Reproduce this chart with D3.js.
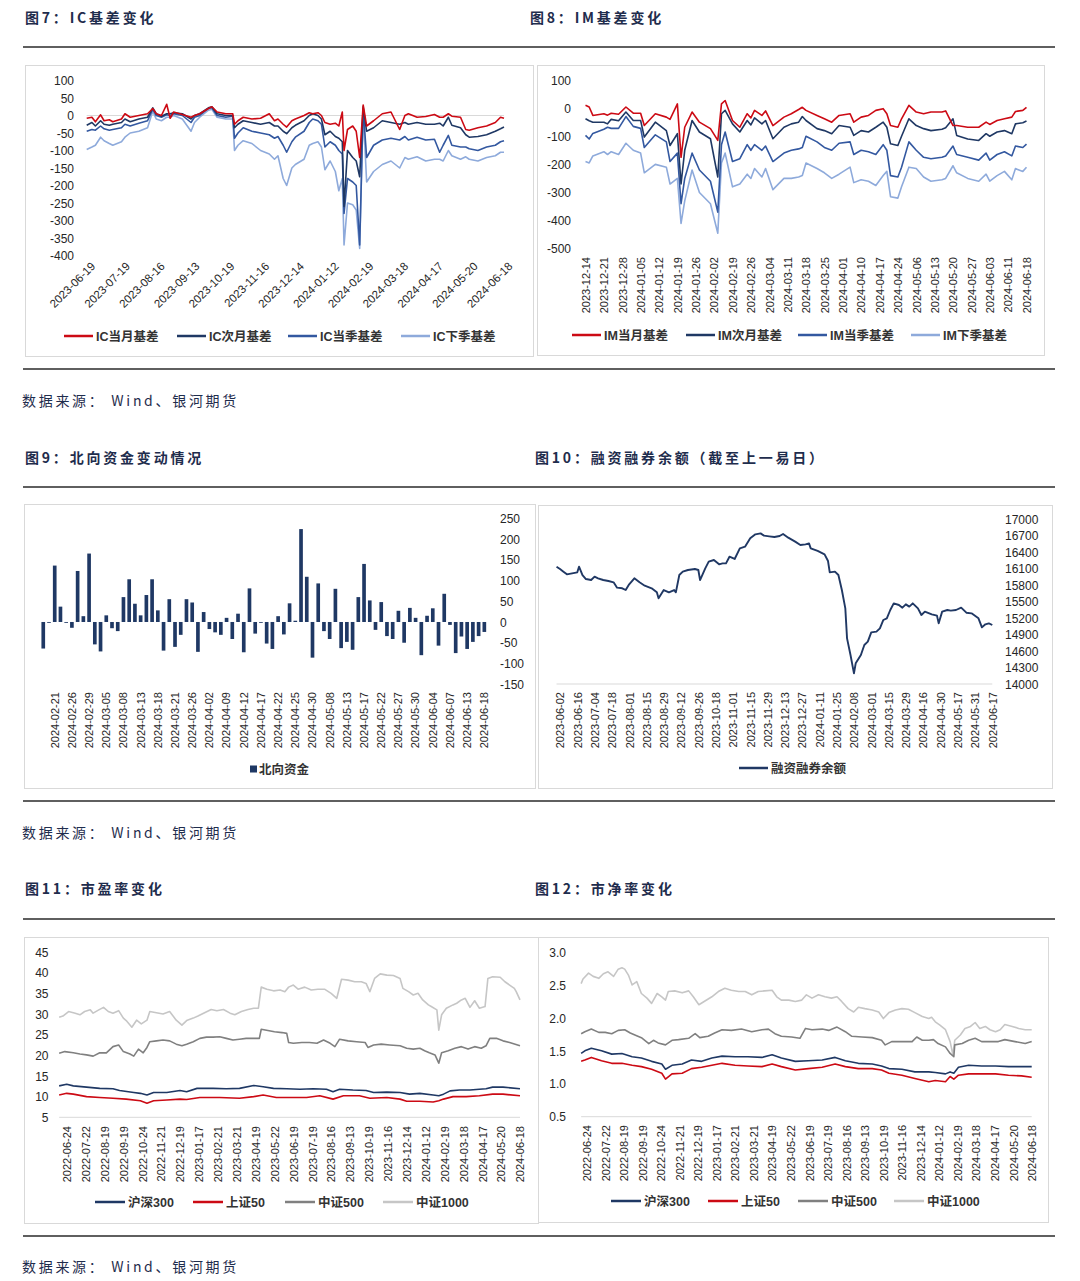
<!DOCTYPE html>
<html>
<head>
<meta charset="utf-8">
<script src="https://d3js.org/d3.v7.min.js"></script>
<style>
  body { margin: 0; background: #ffffff; }
</style>
</head>
<body>
<script>
// ---------- 图7：IC基差 (x = trading day since 2023-06-19) ----------
const icLabels = ["2023-06-19","2023-07-19","2023-08-16","2023-09-13","2023-10-19","2023-11-16","2023-12-14","2024-01-12","2024-02-19","2024-03-18","2024-04-17","2024-05-20","2024-06-18"];
const icDays = [0,3,5,8,10,13,15,20,22,25,30,35,38,40,43,46,48,50,55,60,62,65,70,72,75,80,84,85,87,90,95,100,105,108,110,113,115,118,120,125,128,130,133,135,137,140,143,145,147,148,150,153,155,157,159,161,165,170,175,180,183,185,190,195,200,203,205,208,210,215,218,220,225,230,235,238,240];
const icCur = [-8,-5,-18,2,-15,-12,-18,-10,5,-5, 0,5,20,5,0,32,-8,10,3,-5, 0,5,20,25,10,5,5,-25,-15,-5, -10,-8,5,-15,-10,-25,-33,-15,-10,0, 8,5,8,0,-20,-25,-22,-30,10,-100, -40,-30,-45,-120,30,-30,-15,5,10,-40, 0,5,-5,-3,3,-5,-5,5,-2,-5, -40,-42,-35,-30,-20,-5,-8];
const icNext = [-28,-20,-30,-15,-25,-28,-25,-20,-10,-18, -10,-5,22,5,-2,5,5,8,5,-10, 0,5,22,25,5,0,0,-35,-25,-15, -20,-25,-20,-30,-30,-45,-52,-35,-28,-15, 0,5,0,-10,-55,-45,-60,-65,-75,-260, -100,-120,-130,-175,25,-45,-35,-15,-20,-25, -20,-25,-20,-25,-25,-22,-30,-5,-28,-35, -55,-62,-60,-55,-45,-38,-33];
const icQtr = [-45,-40,-42,-30,-38,-42,-40,-35,-25,-30, -22,-15,18,0,-5,2,0,5,0,-20, -5,0,20,22,0,-5,-2,-65,-50,-35, -45,-50,-55,-65,-60,-85,-105,-75,-62,-45, -20,-10,-15,-25,-90,-75,-85,-100,-110,-280, -180,-190,-200,-370,20,-120,-85,-70,-65,-70, -60,-70,-62,-70,-68,-105,-85,-57,-85,-90, -90,-95,-100,-90,-85,-75,-72];
const icNextQtr = [-97,-90,-85,-62,-72,-80,-85,-75,-62,-50, -45,-35,12,-10,-15,-5,-5,0,-10,-45, -20,-5,15,18,-5,-10,-10,-100,-85,-72, -80,-100,-110,-125,-115,-180,-200,-150,-140,-125, -85,-80,-75,-90,-155,-130,-160,-215,-180,-370, -250,-255,-270,-380,15,-190,-160,-140,-130,-150, -120,-125,-118,-130,-125,-125,-130,-100,-115,-125, -118,-125,-130,-120,-115,-105,-105];
const icTicks = [100,50,0,-50,-100,-150,-200,-250,-300,-350,-400];

// ---------- 图8：IM基差 (x = trading day since 2023-12-14) ----------
const imLabels = ["2023-12-14","2023-12-21","2023-12-28","2024-01-05","2024-01-12","2024-01-19","2024-01-26","2024-02-02","2024-02-19","2024-02-26","2024-03-04","2024-03-11","2024-03-18","2024-03-25","2024-04-01","2024-04-10","2024-04-17","2024-04-24","2024-05-06","2024-05-13","2024-05-20","2024-05-27","2024-06-03","2024-06-11","2024-06-18"];
const imDays = [0,1,2,5,6,7,9,11,13,15,16,19,22,23,25,26,27,29,31,34,36,37,38,40,42,44,45,46,48,49,51,54,56,58,59,60,63,65,67,69,72,73,75,77,79,81,82,83,85,86,88,90,92,94,97,98,100,101,104,107,109,110,112,114,116,117,119,120];
const imCur = [10,4,-26,-20,-25,-18,-22,4,-18,-18, -62,-20,-32,-40,15,-175,-68,-14,-50,-73, -115,15,27,-44,-68,-20,-35,-8,-26,-10, -62,-32,-20,-5,3,-8,-26,-38,-50,-26, -20,-50,-32,-26,-8,-2,-20,-62,-68,-38, 10,-14,-20,-14,-14,-10,-62,-62,-68,-68, -50,-58,-44,-38,-32,-12,-8,3];
const imNext = [-38,-45,-50,-50,-56,-40,-45,-14,-44,-44, -103,-50,-80,-133,-91,-270,-150,-44,-85,-109, -245,-20,-8,-56,-85,-44,-60,-35,-56,-44, -109,-68,-56,-50,-30,-44,-73,-80,-91,-62, -68,-97,-80,-85,-68,-50,-68,-127,-133,-100, -38,-62,-73,-80,-75,-70,-38,-97,-110,-115, -91,-100,-85,-80,-91,-56,-52,-46];
const imQtr = [-97,-110,-90,-75,-68,-72,-72,-30,-65,-72, -140,-95,-120,-190,-160,-340,-250,-160,-220,-260, -370,-130,-85,-190,-180,-130,-150,-130,-150,-135, -190,-160,-150,-145,-140,-100,-120,-140,-150,-125, -120,-165,-150,-155,-165,-130,-150,-240,-245,-210, -120,-150,-175,-180,-175,-170,-135,-165,-175,-185, -160,-185,-165,-155,-170,-135,-140,-128];
const imNextQtr = [-190,-195,-170,-155,-165,-155,-165,-125,-150,-160, -230,-200,-210,-270,-250,-410,-330,-220,-300,-340, -445,-195,-160,-280,-270,-235,-250,-215,-245,-215, -290,-250,-250,-245,-240,-195,-215,-230,-250,-235, -210,-265,-255,-260,-275,-240,-225,-315,-320,-280, -210,-215,-245,-260,-255,-250,-205,-230,-250,-260, -235,-260,-240,-225,-255,-215,-225,-210];
const imTicks = [100,0,-100,-200,-300,-400,-500];

// ---------- 图9：北向资金 (亿元, 2024-02-19 起每个交易日) ----------
const nbLabels = ["2024-02-21","2024-02-26","2024-02-29","2024-03-05","2024-03-08","2024-03-13","2024-03-18","2024-03-21","2024-03-26","2024-04-02","2024-04-09","2024-04-12","2024-04-17","2024-04-22","2024-04-25","2024-04-30","2024-05-08","2024-05-13","2024-05-17","2024-05-22","2024-05-27","2024-05-30","2024-06-04","2024-06-07","2024-06-13","2024-06-18"];
const nbValues = [-64,-2,136,37,-2,-14,123,14,165,-54, -71,16,-15,-22,60,103,44,16,65,103, 28,-69,55,-60,-31,55,47,-72,24,-17, -25,-31,10,-41,20,-73,81,-28,-2,-52, -65,14,-30,45,3,224,109,-86,93,-22, -41,80,-63,-48,-67,60,140,52,-19,48, -34,-41,27,-50,34,10,-80,15,33,-57, 68,-7,-75,-35,-65,-48,-34,-24];
const nbTicks = [250,200,150,100,50,0,-50,-100,-150];

// ---------- 图10：融资融券余额 (亿元, x = trading day since 2023-06-02) ----------
const mbLabels = ["2023-06-02","2023-06-16","2023-07-04","2023-07-18","2023-08-01","2023-08-15","2023-08-29","2023-09-12","2023-09-26","2023-10-18","2023-11-01","2023-11-15","2023-11-29","2023-12-13","2023-12-27","2024-01-11","2024-01-25","2024-02-08","2024-03-01","2024-03-15","2024-03-29","2024-04-16","2024-04-30","2024-05-17","2024-05-31","2024-06-17"];
const marginBalance = [[-2,16137],[0,16095],[2,16046],[4,15998],[7,16016],[10,16034],[11,16137],[13,15985],[15,15912],[18,15894],[20,15955],[22,15925],[25,15894],[28,15876],[31,15852],[33,15755],[36,15743],[38,15712],[40,15815],[43,15925],[46,15852],[49,15791],[53,15743],[56,15670],[57,15560],[60,15712],[63,15670],[66,15712],[67,15670],[69,15985],[71,16046],[74,16076],[78,16095],[80,16076],[81,15894],[84,16107],[86,16228],[89,16259],[92,16180],[94,16198],[96,16198],[98,16319],[101,16277],[104,16471],[107,16501],[110,16653],[113,16726],[116,16744],[118,16702],[121,16690],[124,16678],[127,16696],[129,16732],[132,16665],[136,16593],[139,16532],[142,16544],[144,16562],[145,16471],[149,16423],[153,16362],[155,16240],[156,16034],[159,16046],[161,15985],[163,15712],[165,15378],[166,14832],[168,14528],[170,14194],[171,14376],[174,14528],[176,14710],[178,14771],[180,14941],[183,14953],[185,15014],[187,15166],[189,15196],[191,15348],[193,15469],[196,15439],[198,15390],[200,15451],[202,15409],[204,15469],[207,15378],[209,15257],[211,15318],[215,15269],[218,15245],[219,15105],[221,15318],[224,15348],[226,15336],[229,15348],[232,15390],[235,15299],[238,15287],[242,15196],[244,15032],[246,15087],[248,15105],[250,15075]];
const mbTicks = [17000,16700,16400,16100,15800,15500,15200,14900,14600,14300,14000];

// ---------- 图11 / 图12 (x = trading day since 2022-06-24) ----------
const valLabels = ["2022-06-24","2022-07-22","2022-08-19","2022-09-19","2022-10-24","2022-11-21","2022-12-19","2023-01-17","2023-02-21","2023-03-21","2023-04-19","2023-05-22","2023-06-19","2023-07-19","2023-08-16","2023-09-13","2023-10-19","2023-11-16","2023-12-14","2024-01-12","2024-02-19","2024-03-18","2024-04-17","2024-05-20","2024-06-18"];
const pe300 = [[-8,12.6],[0,13.0],[7,12.6],[21,12.3],[35,12.0],[49,11.9],[56,11.5],[71,11.0],[78,10.8],[85,10.4],[92,11.0],[106,11.0],[120,11.5],[127,11.2],[138,12.0],[155,12.0],[169,11.9],[183,12.0],[198,12.7],[208,12.4],[219,12.0],[233,11.9],[247,11.8],[261,11.9],[275,11.8],[282,11.2],[289,11.8],[303,11.6],[317,11.5],[325,11.0],[339,11.1],[353,11.0],[363,10.6],[374,10.8],[388,10.4],[394,10.2],[399,10.6],[406,11.4],[416,11.6],[427,11.6],[437,11.8],[444,11.9],[451,12.3],[462,12.3],[480,11.9]];
const pe50 = [[-8,10.4],[0,10.8],[7,10.6],[21,10.0],[35,9.8],[49,9.6],[63,9.4],[78,9.0],[85,8.4],[92,9.0],[106,9.2],[120,9.4],[127,9.3],[141,9.8],[162,9.8],[183,9.6],[198,10.0],[208,10.4],[222,9.8],[240,9.8],[254,9.8],[268,10.2],[282,9.4],[293,10.2],[310,10.2],[321,9.6],[339,9.8],[353,9.4],[360,8.9],[374,8.9],[388,8.7],[394,9.0],[399,9.4],[409,10.0],[423,10.0],[437,10.2],[451,10.6],[462,10.6],[480,10.2]];
const pe500 = [[-8,20.5],[-2,20.9],[7,20.6],[14,20.3],[21,20.1],[28,19.8],[35,20.6],[42,20.6],[49,22.1],[55,22.5],[60,20.9],[67,20.3],[71,19.8],[76,21.5],[81,20.6],[85,21.9],[88,23.3],[95,23.5],[102,23.7],[109,23.5],[116,22.7],[122,22.3],[127,22.7],[134,23.3],[141,24.1],[148,24.4],[155,24.4],[162,24.5],[169,24.1],[176,23.7],[183,23.9],[190,24.1],[198,24.1],[204,24.1],[206,26.3],[213,26.0],[220,25.7],[228,25.5],[233,25.3],[235,23.1],[240,22.9],[249,23.1],[257,23.1],[265,22.9],[272,23.7],[279,22.9],[284,22.1],[289,23.9],[298,23.5],[307,23.3],[316,23.1],[319,21.9],[325,22.5],[333,22.7],[342,22.5],[353,22.3],[360,21.7],[367,21.5],[374,21.7],[379,21.1],[384,20.6],[390,20.1],[394,18.1],[397,20.6],[404,21.1],[411,21.7],[418,22.1],[425,21.5],[432,22.1],[439,21.7],[444,22.3],[448,24.1],[455,24.1],[462,23.5],[469,23.1],[480,22.3]];
const pe1000 = [[-8,29.2],[-4,29.5],[2,30.6],[9,30.2],[14,29.8],[19,30.6],[25,31.0],[28,30.2],[34,31.0],[39,31.6],[44,30.6],[49,30.2],[55,30.8],[60,29.0],[63,28.4],[69,26.8],[74,28.5],[79,27.6],[85,28.5],[88,30.6],[95,30.3],[102,30.0],[109,30.6],[116,28.5],[122,27.3],[127,28.4],[134,29.0],[139,29.5],[146,30.3],[153,31.1],[159,30.8],[166,31.1],[173,30.2],[178,29.8],[185,30.6],[192,31.1],[198,31.4],[203,31.4],[206,36.5],[212,36.0],[219,35.6],[226,35.8],[231,35.4],[235,36.5],[240,37.0],[245,36.0],[252,36.5],[259,35.8],[266,36.0],[273,36.0],[280,35.0],[286,33.8],[291,38.4],[298,38.2],[305,37.8],[312,37.8],[317,37.4],[321,35.4],[326,38.6],[332,39.7],[339,39.4],[346,39.3],[353,38.6],[356,36.2],[362,35.4],[367,34.6],[372,35.0],[377,33.4],[383,32.2],[386,31.8],[392,31.0],[394,26.1],[397,29.8],[402,31.4],[409,32.2],[413,32.6],[418,33.4],[422,33.8],[427,31.6],[432,33.2],[437,31.4],[443,31.8],[446,38.6],[451,39.0],[459,38.9],[464,37.8],[469,37.0],[474,36.2],[476,35.4],[480,33.4]];
const peTicks = [45,40,35,30,25,20,15,10,5];

const pbDays = [-6,-2,5,16,27,38,49,59,70,81,85,92,103,113,124,135,146,160,174,189,200,210,225,239,254,268,279,293,308,318,326,340,354,369,376,387,392,396,401,412,426,441,455,469,480];
const pb300 = [1.46,1.50,1.54,1.50,1.45,1.46,1.41,1.39,1.34,1.30, 1.22,1.28,1.30,1.36,1.34,1.39,1.42,1.41,1.41,1.40, 1.44,1.39,1.34,1.35,1.36,1.40,1.35,1.31,1.30,1.27, 1.23,1.22,1.18,1.18,1.17,1.15,1.18,1.16,1.25,1.28, 1.27,1.27,1.26,1.26,1.26];
const pb50 = [1.34,1.36,1.40,1.35,1.31,1.31,1.28,1.26,1.22,1.16, 1.07,1.15,1.16,1.23,1.25,1.28,1.31,1.28,1.27,1.26, 1.30,1.26,1.21,1.23,1.25,1.30,1.26,1.23,1.23,1.21, 1.16,1.13,1.08,1.03,1.05,1.03,1.11,1.07,1.13,1.15, 1.15,1.15,1.13,1.12,1.10];
const pb500 = [[-6,1.76],[-2,1.79],[5,1.83],[13,1.78],[20,1.78],[27,1.76],[34,1.81],[41,1.82],[47,1.77],[52,1.74],[59,1.70],[67,1.61],[72,1.66],[77,1.62],[85,1.59],[92,1.66],[99,1.67],[110,1.69],[117,1.76],[122,1.70],[131,1.72],[138,1.77],[146,1.82],[156,1.81],[167,1.83],[178,1.79],[189,1.82],[196,1.83],[203,1.76],[210,1.72],[221,1.71],[230,1.69],[236,1.84],[243,1.82],[254,1.83],[261,1.81],[270,1.86],[279,1.79],[286,1.72],[297,1.71],[308,1.70],[318,1.66],[322,1.59],[329,1.64],[340,1.64],[351,1.64],[356,1.71],[362,1.66],[369,1.66],[374,1.67],[379,1.61],[387,1.56],[392,1.46],[396,1.41],[397,1.59],[405,1.61],[412,1.66],[419,1.69],[426,1.64],[437,1.64],[444,1.64],[451,1.67],[462,1.64],[473,1.61],[480,1.64]];
const pb1000 = [[-6,2.52],[-4,2.59],[2,2.68],[7,2.63],[13,2.60],[18,2.67],[23,2.70],[29,2.63],[34,2.74],[38,2.76],[41,2.74],[45,2.65],[49,2.50],[54,2.55],[59,2.37],[65,2.30],[70,2.22],[76,2.37],[81,2.32],[85,2.27],[88,2.40],[95,2.41],[103,2.38],[110,2.41],[115,2.32],[121,2.20],[128,2.26],[135,2.32],[142,2.40],[149,2.45],[156,2.42],[164,2.40],[171,2.40],[178,2.35],[185,2.40],[192,2.41],[200,2.42],[205,2.32],[210,2.27],[218,2.27],[225,2.25],[232,2.27],[237,2.35],[243,2.30],[250,2.35],[257,2.32],[264,2.30],[270,2.32],[275,2.25],[282,2.14],[288,2.09],[293,2.16],[300,2.14],[308,2.12],[315,2.09],[320,1.99],[326,2.08],[333,2.12],[340,2.14],[347,2.13],[354,2.08],[362,2.02],[369,1.99],[372,2.01],[376,1.94],[381,1.89],[387,1.82],[392,1.64],[395,1.44],[397,1.66],[403,1.74],[408,1.84],[414,1.87],[419,1.93],[424,1.84],[430,1.87],[435,1.82],[441,1.79],[446,1.82],[451,1.90],[459,1.87],[466,1.84],[473,1.82],[480,1.82]];
const pbTicks = [3.0,2.5,2.0,1.5,1.0,0.5];

// ---------- 样式 ----------
const NUM = '"Liberation Sans", Arial, sans-serif';
const CJK = '"Noto Sans CJK SC", sans-serif';
const MIX = '"Liberation Sans", "Noto Sans CJK SC", sans-serif';
const INK = "#1f2d4d";
const RED = "#cc0a14", NAVY = "#1f3864", MID = "#3358a0", LIGHT = "#8eaadb";
const G500 = "#808080", G1000 = "#c6c6c6";

const svg = d3.select("body").append("svg").attr("width", 1080).attr("height", 1281);

function rule(y) {
  svg.append("line").attr("x1", 23).attr("x2", 1055).attr("y1", y).attr("y2", y)
    .attr("stroke", "#2a2a2a").attr("stroke-width", 1.3);
}
function title(x, y, t) {
  svg.append("text").attr("x", x).attr("y", y).attr("dy", "0.36em")
    .attr("font-family", CJK).attr("font-weight", 700).attr("font-size", 14)
    .attr("letter-spacing", 2.8).attr("fill", INK).text(t);
}
function source(y) {
  svg.append("text").attr("x", 22).attr("y", y).attr("dy", "0.36em")
    .attr("font-family", CJK).attr("font-size", 14).attr("letter-spacing", 2.7)
    .attr("fill", INK).text("数据来源： Wind、银河期货");
}
function frame(x0, y0, x1, y1) {
  svg.append("rect").attr("x", x0 + 0.5).attr("y", y0 + 0.5).attr("width", x1 - x0).attr("height", y1 - y0)
    .attr("fill", "none").attr("stroke", "#d9d9d9").attr("stroke-width", 1);
}
function yAxis(scale, ticks, x, side, fmt) {
  const axis = (side === "left" ? d3.axisLeft(scale) : d3.axisRight(scale))
    .tickValues(ticks).tickSize(0).tickPadding(0).tickFormat(fmt || (d => d));
  const g = svg.append("g").attr("transform", `translate(${x},0)`).call(axis);
  g.select(".domain").remove();
  g.attr("font-family", NUM).attr("font-size", 12).attr("color", "#262626");
  g.selectAll("text").attr("dy", "0.35em");
}
function xLabels(scale, positions, labels, dx, y, angle, size) {
  const axis = d3.axisBottom(scale).tickValues(positions).tickSize(0).tickPadding(0)
    .tickFormat((d, i) => labels[i]);
  const g = svg.append("g").attr("transform", `translate(${dx},${y})`).call(axis);
  g.select(".domain").remove();
  g.attr("font-family", NUM).attr("font-size", size).attr("color", "#262626");
  g.selectAll("text").attr("x", 0).attr("y", 0).attr("dy", "0.35em")
    .attr("text-anchor", "end").attr("transform", `rotate(${angle})`);
}
function series(x, y, pts, color, w) {
  svg.append("path").datum(pts).attr("fill", "none").attr("stroke", color)
    .attr("stroke-width", w).attr("stroke-linejoin", "round")
    .attr("d", d3.line().x(d => x(d[0])).y(d => y(d[1])));
}
function legendLine(x, y, color, label, len) {
  svg.append("line").attr("x1", x).attr("x2", x + len).attr("y1", y).attr("y2", y)
    .attr("stroke", color).attr("stroke-width", 2.5);
  svg.append("text").attr("x", x + len + 3).attr("y", y).attr("dy", "0.36em")
    .attr("font-family", MIX).attr("font-weight", 700).attr("font-size", 12.5)
    .attr("fill", "#333").text(label);
}
function hline(x0, x1, y) {
  svg.append("line").attr("x1", x0).attr("x2", x1).attr("y1", y).attr("y2", y)
    .attr("stroke", "#d9d9d9").attr("stroke-width", 1);
}

// ---------- 页面框架 ----------
title(25, 18, "图7：IC基差变化");
title(530, 18, "图8：IM基差变化");
rule(47);
rule(369);
source(401);
title(25, 458, "图9：北向资金变动情况");
title(535, 458, "图10：融资融券余额（截至上一易日）");
rule(487);
rule(801);
source(833);
title(25, 889, "图11：市盈率变化");
title(535, 889, "图12：市净率变化");
rule(919);
rule(1236);
source(1267);

// ---------- 图7 ----------
{
  frame(25, 65, 533, 356);
  const x = d3.scaleLinear().domain([0, 240]).range([86.7, 504]);
  const y = d3.scaleLinear().domain([-400, 100]).range([255.5, 80.5]);
  hline(x(0), x(240), y(0));
  yAxis(y, icTicks, 74, "left");
  xLabels(x, d3.range(0, 241, 20), icLabels, 6, 264, -45, 11.5);
  series(x, y, d3.zip(icDays, icNextQtr), LIGHT, 1.6);
  series(x, y, d3.zip(icDays, icQtr), MID, 1.6);
  series(x, y, d3.zip(icDays, icNext), NAVY, 1.6);
  series(x, y, d3.zip(icDays, icCur), RED, 1.6);
  legendLine(64, 336, RED, "IC当月基差", 29);
  legendLine(177, 336, NAVY, "IC次月基差", 29);
  legendLine(288, 336, MID, "IC当季基差", 29);
  legendLine(401, 336, LIGHT, "IC下季基差", 29);
}

// ---------- 图8 ----------
{
  frame(537, 65, 1044, 355);
  const x = d3.scaleLinear().domain([0, 120]).range([585.5, 1026.5]);
  const y = d3.scaleLinear().domain([-500, 100]).range([248.7, 80]);
  yAxis(y, imTicks, 571, "left");
  xLabels(x, d3.range(0, 121, 5), imLabels, 0, 257, -90, 11);
  series(x, y, d3.zip(imDays, imNextQtr), LIGHT, 1.6);
  series(x, y, d3.zip(imDays, imQtr), MID, 1.6);
  series(x, y, d3.zip(imDays, imNext), NAVY, 1.6);
  series(x, y, d3.zip(imDays, imCur), RED, 1.6);
  legendLine(572, 335, RED, "IM当月基差", 29);
  legendLine(686, 335, NAVY, "IM次月基差", 29);
  legendLine(798, 335, MID, "IM当季基差", 29);
  legendLine(911, 335, LIGHT, "IM下季基差", 29);
}

// ---------- 图9 ----------
{
  frame(24, 504, 535, 788);
  const x = d3.scaleBand().domain(d3.range(nbValues.length)).range([40.4, 487.2])
    .paddingInner(0.36).paddingOuter(0.18);
  const y = d3.scaleLinear().domain([-150, 250]).range([684.2, 518.3]);
  svg.append("g").selectAll("rect").data(nbValues).join("rect")
    .attr("x", (d, i) => x(i)).attr("width", x.bandwidth())
    .attr("y", d => y(Math.max(0, d))).attr("height", d => Math.abs(y(d) - y(0)))
    .attr("fill", NAVY);
  yAxis(y, nbTicks, 500, "right");
  xLabels(x, d3.range(2, nbValues.length, 3), nbLabels, 0, 692, -90, 11);
  svg.append("rect").attr("x", 250).attr("y", 765.5).attr("width", 7).attr("height", 7).attr("fill", NAVY);
  svg.append("text").attr("x", 259).attr("y", 769).attr("dy", "0.36em")
    .attr("font-family", MIX).attr("font-weight", 700).attr("font-size", 12.5)
    .attr("fill", "#333").text("北向资金");
}

// ---------- 图10 ----------
{
  frame(538, 505, 1052, 788);
  const x = d3.scaleLinear().domain([0, 250]).range([560, 992.3]);
  const y = d3.scaleLinear().domain([14000, 17000]).range([684, 519.3]);
  hline(x(-2), x(250), y(14000));
  yAxis(y, mbTicks, 1005, "right");
  xLabels(x, d3.range(0, 251, 10), mbLabels, 0, 692, -90, 11);
  series(x, y, marginBalance, "#203864", 1.9);
  legendLine(739, 768, "#203864", "融资融券余额", 29);
}

// ---------- 图11 ----------
{
  frame(24, 937, 538, 1223);
  const x = d3.scaleLinear().domain([0, 480]).range([66.7, 520]);
  const y = d3.scaleLinear().domain([5, 45]).range([1117.3, 952]);
  hline(x(-8), x(480), y(5));
  yAxis(y, peTicks, 48.5, "left");
  xLabels(x, d3.range(0, 481, 20), valLabels, 0, 1126, -90, 11);
  series(x, y, pe1000, G1000, 1.6);
  series(x, y, pe500, G500, 1.6);
  series(x, y, pe300, NAVY, 1.6);
  series(x, y, pe50, RED, 1.6);
  legendLine(95, 1202, NAVY, "沪深300", 30);
  legendLine(193, 1202, RED, "上证50", 30);
  legendLine(285, 1202, G500, "中证500", 30);
  legendLine(383, 1202, G1000, "中证1000", 30);
}

// ---------- 图12 ----------
{
  frame(538, 937, 1048, 1222);
  const x = d3.scaleLinear().domain([0, 480]).range([586.7, 1031.7]);
  const y = d3.scaleLinear().domain([0.5, 3.0]).range([1116.7, 952]);
  hline(x(-6), x(480), y(0.5));
  yAxis(y, pbTicks, 566, "left", d3.format(".1f"));
  xLabels(x, d3.range(0, 481, 20), valLabels, 0, 1125, -90, 11);
  series(x, y, pb1000, G1000, 1.6);
  series(x, y, pb500, G500, 1.6);
  series(x, y, d3.zip(pbDays, pb300), NAVY, 1.6);
  series(x, y, d3.zip(pbDays, pb50), RED, 1.6);
  legendLine(611, 1201, NAVY, "沪深300", 30);
  legendLine(708, 1201, RED, "上证50", 30);
  legendLine(798, 1201, G500, "中证500", 30);
  legendLine(894, 1201, G1000, "中证1000", 30);
}
</script>
</body>
</html>
